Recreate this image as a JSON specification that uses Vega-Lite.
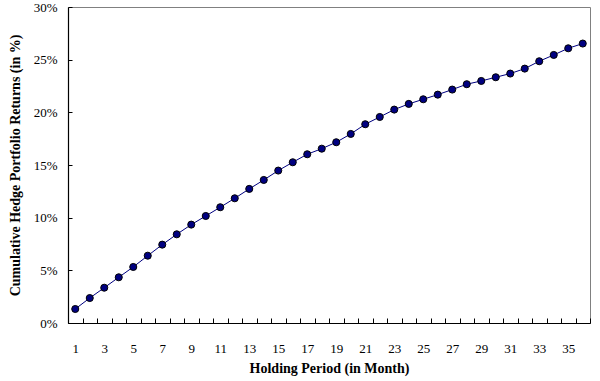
{
  "$schema": "https://vega.github.io/schema/vega-lite/v6.json",
  "width": 522,
  "height": 316,
  "autosize": {"type": "none"},
  "padding": {"left": 68, "top": 7, "right": 10, "bottom": 58},
  "background": "white",
  "config": {
    "view": {"stroke": "#808080", "strokeWidth": 1},
    "font": "Liberation Serif",
    "axis": {"labelFont": "Liberation Serif", "titleFont": "Liberation Serif", "labelColor": "black", "titleColor": "black", "domainColor": "black", "tickColor": "black", "grid": false}
  },
  "data": {
    "values": [
      {"month": 1, "ret": 0.0133}, {"month": 2, "ret": 0.0237}, {"month": 3, "ret": 0.0335},
      {"month": 4, "ret": 0.0434}, {"month": 5, "ret": 0.0532}, {"month": 6, "ret": 0.0639},
      {"month": 7, "ret": 0.0744}, {"month": 8, "ret": 0.0842}, {"month": 9, "ret": 0.0934},
      {"month": 10, "ret": 0.1016}, {"month": 11, "ret": 0.1099}, {"month": 12, "ret": 0.1184},
      {"month": 13, "ret": 0.1273}, {"month": 14, "ret": 0.1358}, {"month": 15, "ret": 0.1447},
      {"month": 16, "ret": 0.1526}, {"month": 17, "ret": 0.1602}, {"month": 18, "ret": 0.1655},
      {"month": 19, "ret": 0.1716}, {"month": 20, "ret": 0.1795}, {"month": 21, "ret": 0.1887},
      {"month": 22, "ret": 0.1956}, {"month": 23, "ret": 0.2026}, {"month": 24, "ret": 0.2080},
      {"month": 25, "ret": 0.2124}, {"month": 26, "ret": 0.2168}, {"month": 27, "ret": 0.2216},
      {"month": 28, "ret": 0.2267}, {"month": 29, "ret": 0.2298}, {"month": 30, "ret": 0.2333},
      {"month": 31, "ret": 0.2368}, {"month": 32, "ret": 0.2415}, {"month": 33, "ret": 0.2485},
      {"month": 34, "ret": 0.2545}, {"month": 35, "ret": 0.2608}, {"month": 36, "ret": 0.2653}
    ]
  },
  "encoding": {
    "x": {
      "field": "month", "type": "quantitative",
      "scale": {"domain": [0.5, 36.5], "nice": false, "zero": false},
      "axis": {
        "title": "Holding Period (in Month)",
        "titleFontSize": 14, "titleFontWeight": "bold", "titlePadding": 6,
        "values": [0.5,1,1.5,2,2.5,3,3.5,4,4.5,5,5.5,6,6.5,7,7.5,8,8.5,9,9.5,10,10.5,11,11.5,12,12.5,13,13.5,14,14.5,15,15.5,16,16.5,17,17.5,18,18.5,19,19.5,20,20.5,21,21.5,22,22.5,23,23.5,24,24.5,25,25.5,26,26.5,27,27.5,28,28.5,29,29.5,30,30.5,31,31.5,32,32.5,33,33.5,34,34.5,35,35.5,36,36.5],
        "labelExpr": "datum.value % 2 == 1 ? '' + datum.value : ''",
        "labelOverlap": false, "labelFlush": false,
        "labelFontSize": 13, "labelPadding": 24,
        "tickSize": -5,
        "tickOpacity": {"condition": {"test": "datum.value % 1 == 0", "value": 0}, "value": 1},
        "domainWidth": 1.2
      }
    },
    "y": {
      "field": "ret", "type": "quantitative",
      "scale": {"domain": [0, 0.3], "nice": false},
      "axis": {
        "title": "Cumulative Hedge Portfolio Returns (in %)",
        "titleFontSize": 14, "titleFontWeight": "bold", "titlePadding": 11,
        "values": [0, 0.05, 0.1, 0.15, 0.2, 0.25, 0.3],
        "format": ".0%",
        "labelFontSize": 13, "labelPadding": 15,
        "tickSize": -4,
        "domainWidth": 1.2
      }
    }
  },
  "layer": [
    {"mark": {"type": "line", "color": "#000080", "strokeWidth": 1}},
    {"mark": {"type": "point", "filled": true, "fill": "#000080", "stroke": "black", "strokeWidth": 1, "size": 50, "opacity": 1}}
  ]
}
